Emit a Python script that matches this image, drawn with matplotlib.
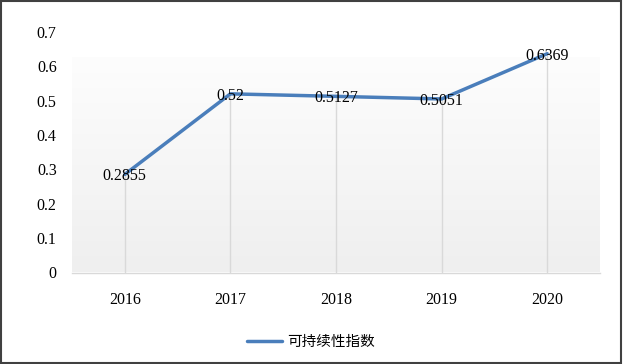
import matplotlib
matplotlib.use("Agg")
import matplotlib.pyplot as plt
import numpy as np
from matplotlib.patches import Rectangle

years = ["2016", "2017", "2018", "2019", "2020"]
values = [0.2855, 0.52, 0.5127, 0.5051, 0.6369]
value_labels = ["0.2855", "0.52", "0.5127", "0.5051", "0.6369"]
y_ticks = [0, 0.1, 0.2, 0.3, 0.4, 0.5, 0.6, 0.7]
y_tick_labels = ["0", "0.1", "0.2", "0.3", "0.4", "0.5", "0.6", "0.7"]
series_name = "可持续性指数"

LINE_COLOR = "#4a7ebb"
DROP_COLOR = "#d9d9d9"
SERIF = ["Liberation Serif", "DejaVu Serif"]

plt.rcParams["font.family"] = SERIF

fig = plt.figure(figsize=(6.23, 3.64), dpi=100)
ax = fig.add_axes([72 / 623, 1 - 272.5 / 364, 528 / 623, (272.5 - 32) / 364])

x = np.arange(len(years))
ax.set_xlim(-0.5, len(years) - 0.5)
ax.set_ylim(0, 0.7)

# gradient fill of the inner plot area (stops a little below the top tick)
grad_top = 0.624
grad = np.linspace(0, 1, 256).reshape(-1, 1)
ax.imshow(grad, extent=[-0.5, len(years) - 0.5, 0, grad_top], aspect="auto",
          cmap=matplotlib.colors.LinearSegmentedColormap.from_list(
              "bg", ["#efefef", "#fdfdfd"]), origin="lower", zorder=0)

ax.vlines(x, 0, values, color=DROP_COLOR, linewidth=1.0, zorder=1)
ax.plot(x, values, color=LINE_COLOR, linewidth=2.5, zorder=3,
        solid_capstyle="round", label=series_name)

for xi, v, lab in zip(x, values, value_labels):
    ax.text(xi, v - 0.006, lab, ha="center", va="center", fontsize=11.5,
            color="black", zorder=4)

ax.set_xticks(x)
ax.set_xticklabels(years, fontsize=11.5)
ax.set_yticks(y_ticks)
ax.set_yticklabels(y_tick_labels, fontsize=11.5)
ax.tick_params(axis="both", length=0, colors="black")
ax.tick_params(axis="x", pad=14)
ax.tick_params(axis="y", pad=11)

for side in ["top", "right", "left"]:
    ax.spines[side].set_visible(False)
ax.spines["bottom"].set_color(DROP_COLOR)
ax.spines["bottom"].set_linewidth(1.0)

leg = fig.legend(loc="center", bbox_to_anchor=(311 / 623, 1 - 342 / 364),
                 frameon=False, handlelength=2.4, handletextpad=0.3,
                 prop={"family": ["Noto Sans CJK SC", "DejaVu Sans"], "size": 10.5})

# outer border
fig.patches.append(Rectangle((0.002, 0.003), 0.995, 0.994, transform=fig.transFigure,
                             fill=False, edgecolor="#404040", linewidth=1.5))

fig.savefig("out.png", dpi=100)
